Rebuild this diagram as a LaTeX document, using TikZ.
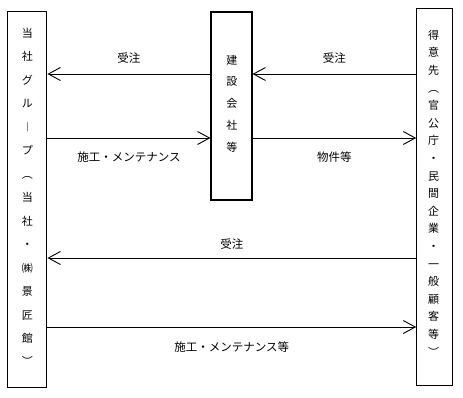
\documentclass[tikz,border=0pt]{standalone}
\usepackage{fontspec}
\newfontfamily\jpfont{Noto Sans CJK JP}
\usetikzlibrary{arrows.meta, positioning}

\begin{document}
\begin{tikzpicture}[
    x=1pt, y=-1pt,
    box/.style={draw, rectangle, line width=1.1pt, inner sep=0pt},
    vch/.style={inner sep=0pt, text height=9.7pt, text depth=1.3pt, font=\jpfont\fontsize{11}{13}\selectfont},
    lbl/.style={inner sep=0pt, text height=10pt, text depth=1.3pt, font=\jpfont\fontsize{11.5}{14}\selectfont},
    arrow/.style={-{Straight Barb[length=12pt, width=13pt]}, line width=0.9pt}
]
\useasboundingbox (0,0) rectangle (463,397);
% --- Boxes ---
\node[box, minimum width=39pt, minimum height=375.5pt] (grp) at (27.4,199.5) {};
\node[box, minimum width=41pt, minimum height=188pt] (cons) at (231.5,106) {};
\node[box, minimum width=35.5pt, minimum height=377pt] (cust) at (434.5,197) {};
% --- Vertical texts, one character per node ---
\foreach \ch [count=\i from 0] in {当,社,グ,ル,︱,プ,︵,当,社,・,㈱,景,匠,館,︶}
  \node[vch] (grp-\i) at (27.4,{33.3+23.46*\i}) {\ch};
\foreach \ch [count=\i from 0] in {建,設,会,社,等}
  \node[vch] (cons-\i) at (231.8,{60+21.7*\i}) {\ch};
\foreach \ch [count=\i from 0] in {得,意,先,︵,官,公,庁,・,民,間,企,業,・,一,般,顧,客,等,︶}
  \node[vch] (cust-\i) at (433.5,{35+17.6*\i}) {\ch};
% --- Rows of the arrows ---
\coordinate (r1) at (0,74);
\coordinate (r2) at (0,138);
\coordinate (r3) at (0,258);
\coordinate (r4) at (0,327);
% --- Arrows / Connections ---
% orders via the construction companies
\draw[arrow] (cons.west |- r1) -- node[lbl, above=9.3pt] {受注} (grp.east |- r1);
\draw[arrow] (cust.west |- r1) -- node[lbl, above=9.3pt] {受注} (cons.east |- r1);
% work and property
\draw[arrow] (grp.east |- r2) -- node[lbl, below=13.3pt] {施工・メンテナンス} (cons.west |- r2);
\draw[arrow] (cons.east |- r2) -- node[lbl, below=13.3pt] {物件等} (cust.west |- r2);
% direct orders
\draw[arrow] (cust.west |- r3) -- node[lbl, above=7.3pt] {受注} (grp.east |- r3);
\draw[arrow] (grp.east |- r4) -- node[lbl, below=14.3pt] {施工・メンテナンス等} (cust.west |- r4);
\end{tikzpicture}
\end{document}
